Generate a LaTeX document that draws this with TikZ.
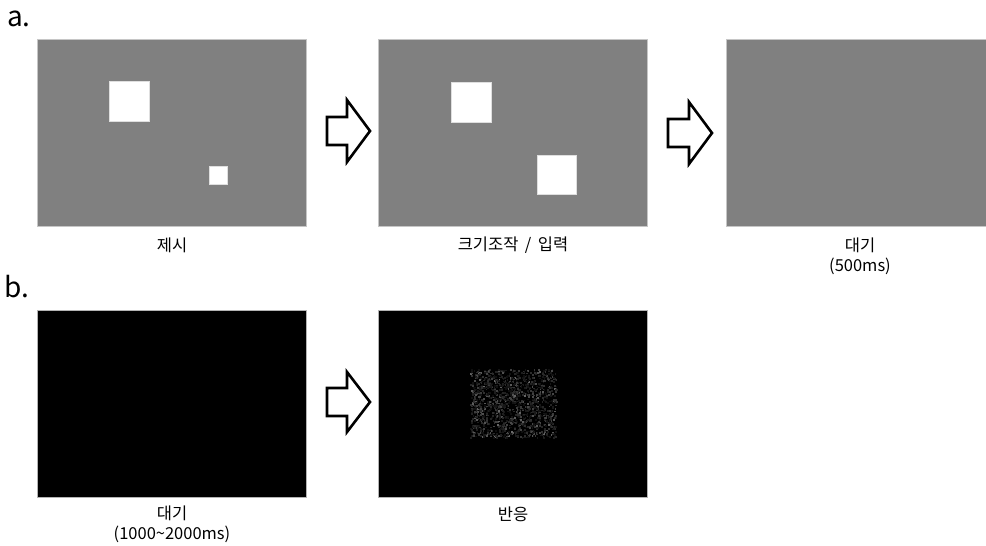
\documentclass[tikz,border=0pt]{standalone}
\usepackage{fontspec}
\setmainfont{Noto Sans CJK KR}
\begin{document}
\begin{tikzpicture}[x=1pt,y=-1pt,
  screen/.style={rectangle,inner sep=0pt,minimum width=269pt,minimum height=187pt},
  grayscreen/.style={screen,fill=gray!100!white,draw=gray!45,line width=0.8pt},
  blackscreen/.style={screen,fill=black,draw=gray!60,line width=0.6pt},
  whitesq/.style={rectangle,inner sep=0pt,fill=white,draw=gray!25,line width=0.5pt},
  blockarr/.style={draw=black,line width=2.6pt,fill=white,line join=miter},
  lbl/.style={font=\fontsize{16.5}{20}\selectfont,align=center,inner sep=0pt},
  panellbl/.style={font=\fontsize{28}{32}\selectfont,anchor=base west,inner sep=0pt}]
\useasboundingbox (0,0) rectangle (986,546);
\clip (0,0) rectangle (986,546);
\definecolor{gray}{RGB}{128,128,128}
% panel labels
\node[panellbl] (la) at (7,27) {a.};
\node[panellbl] (lb) at (4,297) {b.};
% row a screens
\node[grayscreen] (s1) at (172,132.5) {};
\node[grayscreen] (s2) at (513,133) {};
\node[grayscreen] (s3) at (860.5,133) {};
\node[whitesq,minimum size=40pt] (q1) at (129,101) {};
\node[whitesq,minimum size=18pt] (q2) at (218,175.5) {};
\node[whitesq,minimum size=40pt] (q3) at (471,102) {};
\node[whitesq,minimum size=39pt] (q4) at (556.5,174.5) {};
\node[lbl] (t1) at (172,245) {제시};
\node[lbl] (t2) at (513,245) {크기조작 \,/\, 입력};
\node[lbl] (t3) at (860,256) {대기\\(500ms)};
% row a arrows
\draw[blockarr] (327,117) -- (347,117) -- (347,100) -- (370,131) -- (347,162) -- (347,145) -- (327,145) -- cycle;
\draw[blockarr] (668,119) -- (689,119) -- (689,102) -- (712,133) -- (689,164) -- (689,147) -- (668,147) -- cycle;
% row b screens
\node[blackscreen] (b1) at (172,403.5) {};
\node[blackscreen] (b2) at (513,403.5) {};
\node[lbl] (t4) at (172,524) {대기\\(1000\textasciitilde2000ms)};
\node[lbl] (t5) at (513,514) {반응};
\draw[blockarr] (327,388) -- (347,388) -- (347,372) -- (370,402) -- (347,432) -- (347,416) -- (327,416) -- cycle;
% random dot field
\pgfmathsetseed{11}
\foreach \i in {1,...,1400}{
  \pgfmathsetmacro\px{470+86*rnd}
  \pgfmathsetmacro\py{369+68*rnd}
  \pgfmathtruncatemacro\g{6+38*rnd*rnd}
  \fill[white!\g!black] (\px,\py) rectangle ++(1.8,1.8);
}
\end{tikzpicture}
\end{document}
